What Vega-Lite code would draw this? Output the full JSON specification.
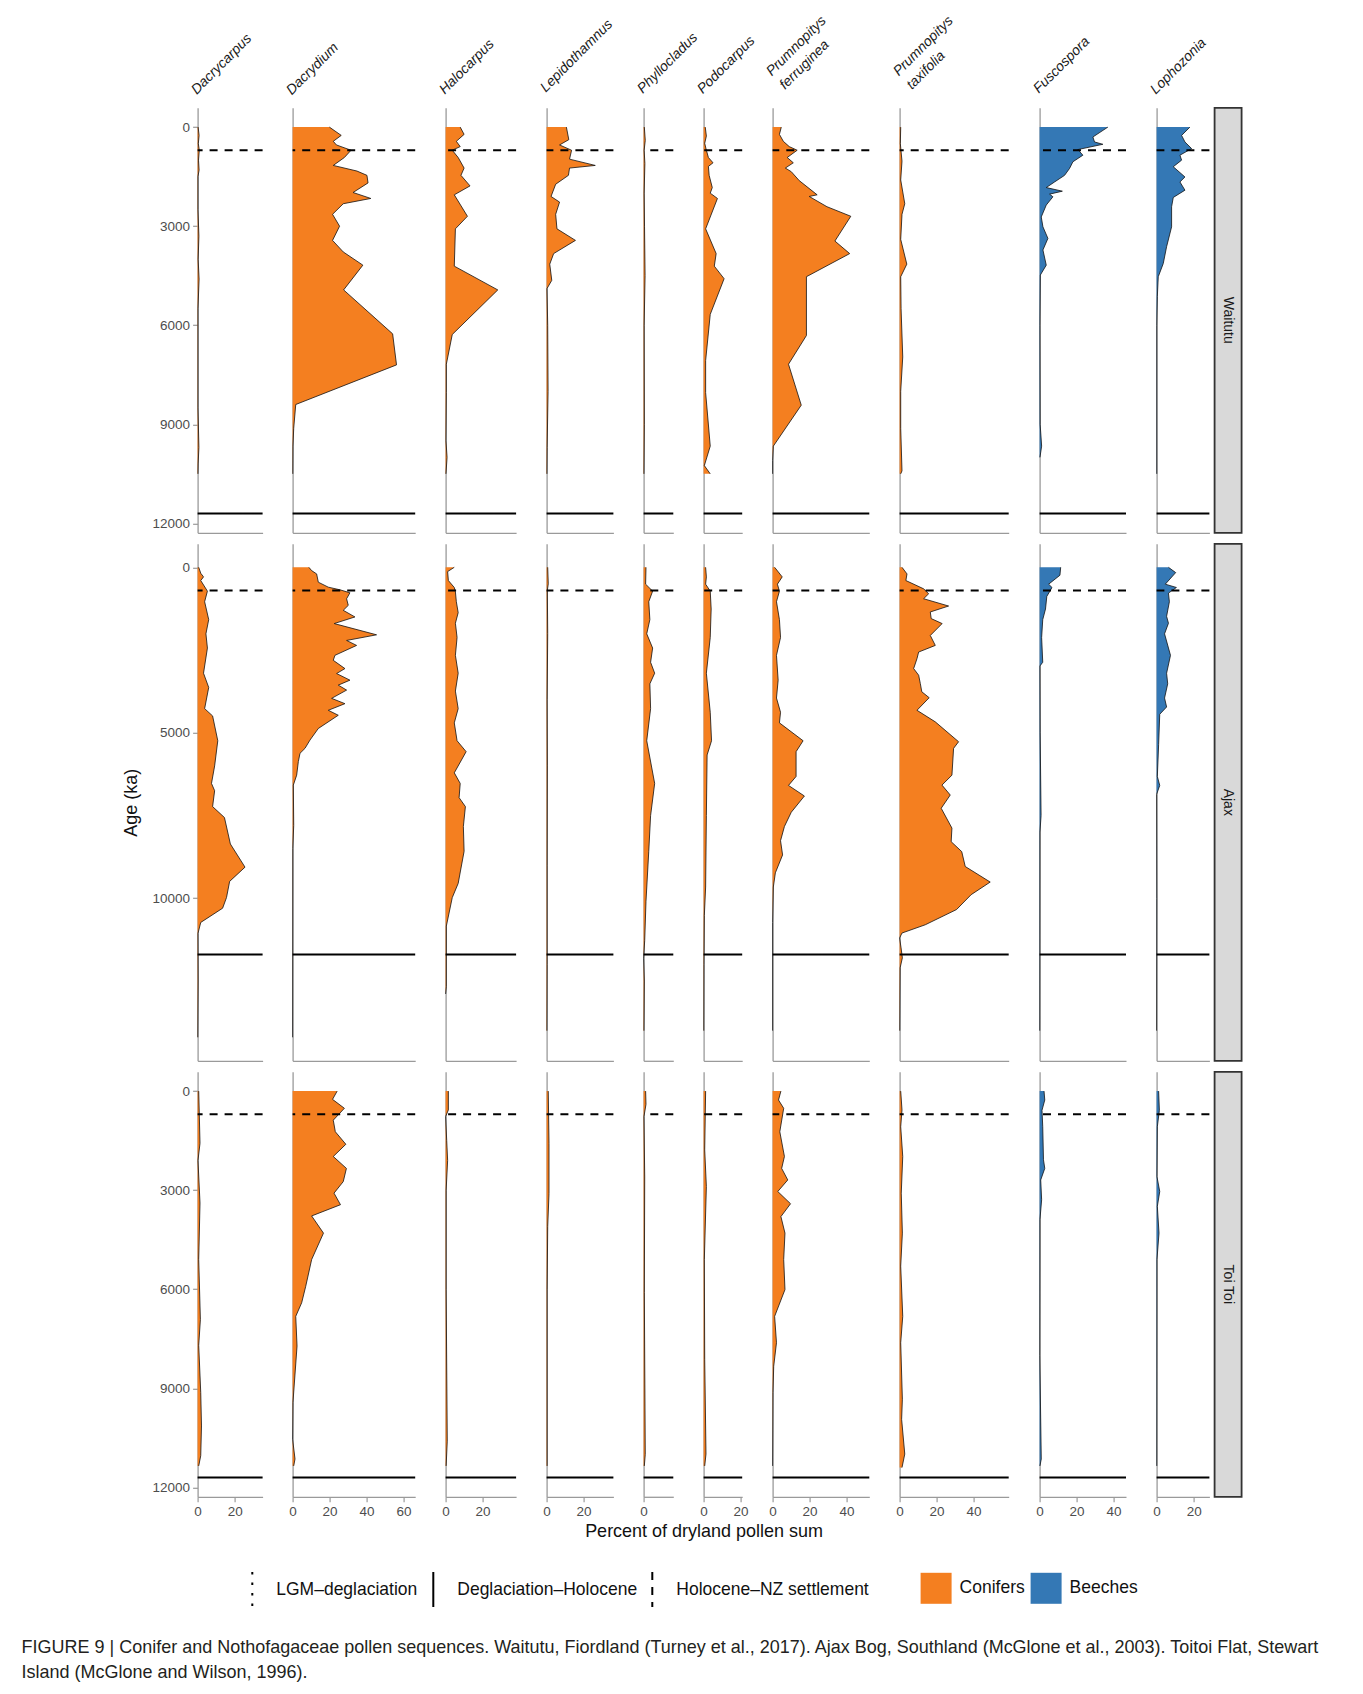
{
"$schema":"https://vega.github.io/schema/vega-lite/v6.json",
"padding":{"left":21.6,"top":12.8,"right":5,"bottom":5},
"background":"white",
"config":{
 "font":"Liberation Sans",
 "view":{"stroke":null},
 "axis":{"domainColor":"#9a9a9a","domainWidth":1.3,"tickColor":"#9a9a9a","tickWidth":1.2,"tickSize":5,"ticks":false,"labels":false,"grid":false,"labelFontSize":13.5,"labelColor":"#4d4d4d","labelPadding":3,"labelFlush":false,"labelOverlap":false,"titleFontSize":18,"titleFontWeight":"normal","titleColor":"#111111"},
 "legend":{"orient":"none","direction":"horizontal","labelFontSize":17.5,"labelColor":"#111111","labelLimit":400,"columnPadding":5,"padding":0,"offset":0},
 "title":{"orient":"top","anchor":"start","frame":"group","angle":-45,"align":"left","baseline":"alphabetic","offset":-38,"dx":-10.4,"dy":-1.9,"fontSize":14,"fontStyle":"italic","fontWeight":"normal","color":"#1a1a1a","lineHeight":19}
},
"title":{"text":["FIGURE 9 | Conifer and Nothofagaceae pollen sequences. Waitutu, Fiordland (Turney et al., 2017). Ajax Bog, Southland (McGlone et al., 2003). Toitoi Flat, Stewart","Island (McGlone and Wilson, 1996)."],"orient":"bottom","anchor":"start","frame":"group","angle":0,"align":"left","baseline":"top","offset":28,"dx":-176,"dy":0,"fontSize":18,"fontStyle":"normal","fontWeight":"normal","color":"#231f20","lineHeight":25},
"datasets":{
"bounds":[{"boundary":"Holocene–NZ settlement","age":700},{"boundary":"Deglaciation–Holocene","age":11700}],
"sites":[{"site":"Waitutu"},{"site":"Ajax"},{"site":"Toi Toi"}],
"W_Dacrycarpus":[{"age":0,"pct":0.3},{"age":250,"pct":0.8},{"age":500,"pct":0.4},{"age":700,"pct":0.9},{"age":1000,"pct":0.5},{"age":1300,"pct":0.8},{"age":1500,"pct":0.2},{"age":2500,"pct":0.2},{"age":3300,"pct":0.7},{"age":4000,"pct":0.3},{"age":4600,"pct":0.8},{"age":5500,"pct":0.2},{"age":8500,"pct":0.2},{"age":9700,"pct":0.7},{"age":10200,"pct":0.3},{"age":10500,"pct":0.2}],
"W_Dacrydium":[{"age":0,"pct":19.9},{"age":250,"pct":26.3},{"age":430,"pct":22},{"age":540,"pct":23.7},{"age":700,"pct":31.6},{"age":920,"pct":28},{"age":1160,"pct":22},{"age":1330,"pct":34.8},{"age":1460,"pct":40.2},{"age":1690,"pct":40.8},{"age":1980,"pct":32.7},{"age":2160,"pct":42.3},{"age":2320,"pct":27.4},{"age":2640,"pct":21.6},{"age":3000,"pct":25.4},{"age":3430,"pct":21.6},{"age":3780,"pct":27.4},{"age":4180,"pct":38},{"age":4930,"pct":27.6},{"age":6260,"pct":54.1},{"age":7200,"pct":56.2},{"age":8400,"pct":1.7},{"age":9120,"pct":0.6},{"age":9660,"pct":0.2},{"age":10500,"pct":0.1}],
"W_Halocarpus":[{"age":0,"pct":7.9},{"age":220,"pct":10},{"age":430,"pct":5.8},{"age":590,"pct":7.9},{"age":700,"pct":3.6},{"age":920,"pct":6.8},{"age":1240,"pct":10},{"age":1460,"pct":8.3},{"age":1780,"pct":13.2},{"age":2050,"pct":4.7},{"age":2700,"pct":11.8},{"age":3080,"pct":5.3},{"age":4210,"pct":4.7},{"age":4930,"pct":28.2},{"age":6280,"pct":3.6},{"age":7180,"pct":0.4},{"age":8040,"pct":0.4},{"age":9500,"pct":0.2},{"age":10000,"pct":0.8},{"age":10500,"pct":0.2}],
"W_Lepidothamnus":[{"age":0,"pct":10.7},{"age":380,"pct":12},{"age":540,"pct":7},{"age":700,"pct":13.5},{"age":970,"pct":12.4},{"age":1160,"pct":26.3},{"age":1240,"pct":12.4},{"age":1460,"pct":11.8},{"age":1730,"pct":4.9},{"age":2100,"pct":2.4},{"age":2270,"pct":7},{"age":2640,"pct":4.9},{"age":3080,"pct":5.6},{"age":3430,"pct":15.6},{"age":3830,"pct":3.8},{"age":4150,"pct":1.7},{"age":4640,"pct":2.8},{"age":4890,"pct":0.2},{"age":6000,"pct":0.6},{"age":8000,"pct":0.8},{"age":9700,"pct":0.3},{"age":10500,"pct":0.2}],
"W_Phyllocladus":[{"age":0,"pct":0.4},{"age":400,"pct":0.9},{"age":700,"pct":0.3},{"age":1100,"pct":0.7},{"age":2000,"pct":0.3},{"age":3000,"pct":0.5},{"age":4500,"pct":0.8},{"age":6000,"pct":0.3},{"age":9000,"pct":0.4},{"age":10500,"pct":0.2}],
"W_Podocarpus":[{"age":0,"pct":0.9},{"age":270,"pct":1.5},{"age":490,"pct":0.6},{"age":700,"pct":1.5},{"age":920,"pct":2.6},{"age":1080,"pct":5.1},{"age":1190,"pct":2.6},{"age":1460,"pct":3},{"age":1830,"pct":4.7},{"age":2000,"pct":3.6},{"age":2160,"pct":7.5},{"age":3080,"pct":1.1},{"age":3830,"pct":6.8},{"age":4210,"pct":5.8},{"age":4590,"pct":11.1},{"age":5670,"pct":3.6},{"age":7070,"pct":1.1},{"age":8040,"pct":1.1},{"age":9660,"pct":3.6},{"age":10250,"pct":0.4},{"age":10500,"pct":3.6}],
"W_Pferr":[{"age":0,"pct":4.7},{"age":220,"pct":3.7},{"age":430,"pct":5.8},{"age":590,"pct":9},{"age":700,"pct":13.3},{"age":920,"pct":7.9},{"age":1080,"pct":11.2},{"age":1240,"pct":6.9},{"age":1350,"pct":10.1},{"age":1620,"pct":14.4},{"age":2050,"pct":24.1},{"age":2100,"pct":19.8},{"age":2410,"pct":29.4},{"age":2700,"pct":42.3},{"age":3450,"pct":33.7},{"age":3830,"pct":41.7},{"age":4530,"pct":18.3},{"age":6310,"pct":18.3},{"age":7180,"pct":8.6},{"age":8420,"pct":15.5},{"age":9660,"pct":0.4},{"age":10090,"pct":0},{"age":10500,"pct":0}],
"W_Ptax":[{"age":0,"pct":0.6},{"age":500,"pct":0.4},{"age":1030,"pct":1.3},{"age":1600,"pct":0.6},{"age":2320,"pct":2.8},{"age":2640,"pct":1.3},{"age":3400,"pct":0.6},{"age":4150,"pct":3.9},{"age":4530,"pct":0.6},{"age":5500,"pct":0.8},{"age":6960,"pct":1.7},{"age":8000,"pct":0.6},{"age":9120,"pct":0.6},{"age":10410,"pct":1.3},{"age":10500,"pct":0.6}],
"W_Fuscospora":[{"age":0,"pct":36.9},{"age":300,"pct":28.8},{"age":450,"pct":29.7},{"age":520,"pct":34.2},{"age":680,"pct":20.7},{"age":850,"pct":23.4},{"age":1050,"pct":18},{"age":1250,"pct":16.2},{"age":1460,"pct":13.5},{"age":1660,"pct":8.1},{"age":1830,"pct":3.6},{"age":1940,"pct":12.3},{"age":2030,"pct":5.4},{"age":2110,"pct":7.2},{"age":2360,"pct":3.6},{"age":2720,"pct":0.9},{"age":3020,"pct":1.8},{"age":3370,"pct":4.5},{"age":3720,"pct":1.8},{"age":4180,"pct":3.6},{"age":4480,"pct":0.4},{"age":6000,"pct":0.2},{"age":9000,"pct":0.3},{"age":9660,"pct":1.1},{"age":10000,"pct":0.2}],
"W_Lophozonia":[{"age":0,"pct":18},{"age":250,"pct":13.5},{"age":450,"pct":15.3},{"age":650,"pct":18.9},{"age":850,"pct":12.6},{"age":1000,"pct":13.5},{"age":1200,"pct":9},{"age":1510,"pct":15.3},{"age":1660,"pct":12.6},{"age":1910,"pct":15.3},{"age":2130,"pct":9},{"age":2410,"pct":8.1},{"age":3020,"pct":8.1},{"age":3620,"pct":5.4},{"age":4130,"pct":3.6},{"age":4530,"pct":0.9},{"age":5130,"pct":0.4},{"age":6000,"pct":0.1},{"age":10500,"pct":0.1}],
"A_Dacrycarpus":[{"age":0,"pct":0.6},{"age":180,"pct":1.7},{"age":290,"pct":3.2},{"age":400,"pct":1.7},{"age":720,"pct":5.3},{"age":1040,"pct":3.8},{"age":1580,"pct":6},{"age":2010,"pct":4.5},{"age":2440,"pct":5.3},{"age":3200,"pct":3.2},{"age":3630,"pct":6},{"age":4270,"pct":3.8},{"age":4490,"pct":8.1},{"age":5240,"pct":10.9},{"age":6000,"pct":9.2},{"age":6530,"pct":7.5},{"age":6750,"pct":9.2},{"age":7230,"pct":8.1},{"age":7560,"pct":14.5},{"age":8360,"pct":17.7},{"age":9060,"pct":25.6},{"age":9490,"pct":17.3},{"age":9980,"pct":15.6},{"age":10300,"pct":13.5},{"age":10730,"pct":1.7},{"age":11060,"pct":0.2},{"age":12500,"pct":0.3},{"age":14200,"pct":0.1}],
"A_Dacrydium":[{"age":0,"pct":8.8},{"age":100,"pct":10.3},{"age":200,"pct":13},{"age":450,"pct":13.9},{"age":600,"pct":19.3},{"age":680,"pct":25.6},{"age":770,"pct":31},{"age":950,"pct":29.2},{"age":1150,"pct":30.1},{"age":1300,"pct":27.4},{"age":1500,"pct":33.7},{"age":1700,"pct":22.5},{"age":2040,"pct":45.4},{"age":2210,"pct":29.2},{"age":2360,"pct":34.6},{"age":2660,"pct":22.9},{"age":2810,"pct":22},{"age":3060,"pct":28.3},{"age":3210,"pct":23.8},{"age":3410,"pct":31},{"age":3560,"pct":24.7},{"age":3710,"pct":29.2},{"age":3960,"pct":21.1},{"age":4120,"pct":28.3},{"age":4320,"pct":19.3},{"age":4470,"pct":24.7},{"age":4870,"pct":13.9},{"age":5220,"pct":9.4},{"age":5470,"pct":6.7},{"age":5620,"pct":4},{"age":5870,"pct":3.1},{"age":6280,"pct":2.2},{"age":6580,"pct":0.4},{"age":7800,"pct":0.6},{"age":8500,"pct":0.1},{"age":14200,"pct":0}],
"A_Halocarpus":[{"age":0,"pct":4.7},{"age":130,"pct":1.1},{"age":400,"pct":1.5},{"age":610,"pct":4.7},{"age":740,"pct":5.3},{"age":1040,"pct":5.8},{"age":1370,"pct":6.8},{"age":1690,"pct":5.3},{"age":2120,"pct":6.2},{"age":2660,"pct":5.3},{"age":3200,"pct":6.8},{"age":3740,"pct":5.3},{"age":4270,"pct":6.8},{"age":4700,"pct":4.7},{"age":5240,"pct":6.2},{"age":5570,"pct":11.1},{"age":6210,"pct":4.7},{"age":6530,"pct":7.9},{"age":6960,"pct":7.3},{"age":7230,"pct":10.7},{"age":7830,"pct":9.6},{"age":8580,"pct":10},{"age":9550,"pct":6.8},{"age":9980,"pct":3.6},{"age":10840,"pct":0.4},{"age":12670,"pct":0.4},{"age":12890,"pct":0}],
"A_Lepidothamnus":[{"age":0,"pct":0.6},{"age":500,"pct":0.9},{"age":700,"pct":0.4},{"age":2000,"pct":0.6},{"age":4000,"pct":0.3},{"age":6000,"pct":0.4},{"age":9000,"pct":0.3},{"age":12000,"pct":0.3},{"age":14000,"pct":0.2}],
"A_Phyllocladus":[{"age":0,"pct":1.3},{"age":510,"pct":1.1},{"age":720,"pct":4.9},{"age":1040,"pct":2.8},{"age":1580,"pct":3.4},{"age":2010,"pct":1.7},{"age":2440,"pct":4.9},{"age":2870,"pct":3.8},{"age":3200,"pct":6},{"age":3520,"pct":3.4},{"age":4270,"pct":3.8},{"age":5240,"pct":1.7},{"age":6530,"pct":6},{"age":7500,"pct":3.8},{"age":8580,"pct":2.8},{"age":10090,"pct":1.3},{"age":11270,"pct":0.6},{"age":11810,"pct":0},{"age":12500,"pct":0.4},{"age":14000,"pct":0.2}],
"A_Podocarpus":[{"age":0,"pct":1.1},{"age":290,"pct":1.5},{"age":510,"pct":1.1},{"age":720,"pct":3.6},{"age":1260,"pct":4.1},{"age":2120,"pct":3.6},{"age":3200,"pct":1.5},{"age":4380,"pct":3.6},{"age":5240,"pct":4.3},{"age":5670,"pct":1.9},{"age":7500,"pct":1.5},{"age":9660,"pct":1.1},{"age":10520,"pct":0.4},{"age":12000,"pct":0.2},{"age":14000,"pct":0.1}],
"A_Pferr":[{"age":0,"pct":1.1},{"age":290,"pct":5.2},{"age":510,"pct":2.6},{"age":720,"pct":3.7},{"age":1040,"pct":2.1},{"age":1580,"pct":3.7},{"age":2120,"pct":4.3},{"age":2660,"pct":2.1},{"age":3410,"pct":3},{"age":3950,"pct":2.1},{"age":4380,"pct":4.3},{"age":4700,"pct":3.7},{"age":5240,"pct":16.5},{"age":5570,"pct":12.7},{"age":6320,"pct":12.7},{"age":6590,"pct":8.6},{"age":6910,"pct":17.2},{"age":7400,"pct":10.1},{"age":7830,"pct":6.4},{"age":8260,"pct":4.3},{"age":8690,"pct":5.4},{"age":9230,"pct":1.5},{"age":9660,"pct":0.4},{"age":10730,"pct":0},{"age":14000,"pct":0}],
"A_Ptax":[{"age":0,"pct":1.3},{"age":200,"pct":4},{"age":400,"pct":3.4},{"age":650,"pct":13},{"age":800,"pct":15.7},{"age":950,"pct":13},{"age":1170,"pct":26.5},{"age":1350,"pct":16.6},{"age":1550,"pct":17.1},{"age":1700,"pct":23},{"age":2060,"pct":16.6},{"age":2360,"pct":19.3},{"age":2560,"pct":10.3},{"age":2760,"pct":9.4},{"age":3060,"pct":7.6},{"age":3260,"pct":10.3},{"age":3510,"pct":11.2},{"age":3760,"pct":12},{"age":3940,"pct":16},{"age":4320,"pct":9.4},{"age":4670,"pct":19.3},{"age":5270,"pct":31.9},{"age":5470,"pct":29.2},{"age":6280,"pct":28.3},{"age":6580,"pct":22.9},{"age":6880,"pct":27.4},{"age":7280,"pct":22.5},{"age":7880,"pct":28.3},{"age":8290,"pct":27.9},{"age":8590,"pct":33.6},{"age":9040,"pct":35.5},{"age":9510,"pct":49},{"age":9890,"pct":38.7},{"age":10340,"pct":30.8},{"age":10800,"pct":13.9},{"age":11050,"pct":1.3},{"age":11200,"pct":0},{"age":11500,"pct":0.8},{"age":11800,"pct":1.5},{"age":12100,"pct":0.3},{"age":14000,"pct":0.1}],
"A_Fuscospora":[{"age":0,"pct":11.4},{"age":240,"pct":11},{"age":510,"pct":4.9},{"age":610,"pct":6.7},{"age":880,"pct":3.9},{"age":1260,"pct":3.2},{"age":1580,"pct":1.7},{"age":2120,"pct":1.1},{"age":2870,"pct":1.7},{"age":2980,"pct":0.2},{"age":5000,"pct":0.3},{"age":7500,"pct":0.8},{"age":8000,"pct":0.2},{"age":14000,"pct":0.1}],
"A_Lophozonia":[{"age":0,"pct":6.4},{"age":160,"pct":10.3},{"age":510,"pct":4.7},{"age":610,"pct":10.7},{"age":780,"pct":6.4},{"age":1040,"pct":6.9},{"age":1480,"pct":5.4},{"age":1690,"pct":6.4},{"age":2010,"pct":4.3},{"age":2660,"pct":7.5},{"age":3200,"pct":5.4},{"age":3520,"pct":6},{"age":3950,"pct":4.3},{"age":4220,"pct":5.4},{"age":4440,"pct":1.7},{"age":5350,"pct":1.1},{"age":6320,"pct":0.4},{"age":6590,"pct":1.7},{"age":6860,"pct":0},{"age":10000,"pct":0.1},{"age":14000,"pct":0}],
"T_Dacrycarpus":[{"age":0,"pct":0.6},{"age":1580,"pct":1.3},{"age":2100,"pct":0.2},{"age":3390,"pct":1.3},{"age":5100,"pct":0.6},{"age":6920,"pct":1.5},{"age":7700,"pct":0.6},{"age":9130,"pct":1.7},{"age":10140,"pct":2.1},{"age":11040,"pct":1.7},{"age":11350,"pct":0.6}],
"T_Dacrydium":[{"age":0,"pct":24.1},{"age":250,"pct":21.6},{"age":520,"pct":28},{"age":880,"pct":22},{"age":1230,"pct":23.1},{"age":1610,"pct":28.8},{"age":1980,"pct":22},{"age":2340,"pct":29.1},{"age":2740,"pct":27.4},{"age":3090,"pct":22.4},{"age":3440,"pct":25.9},{"age":3780,"pct":10.3},{"age":4300,"pct":16.7},{"age":5100,"pct":10.3},{"age":5910,"pct":7.1},{"age":6410,"pct":4.9},{"age":6820,"pct":1.7},{"age":7720,"pct":2.4},{"age":9430,"pct":0.2},{"age":10540,"pct":0},{"age":11140,"pct":1.3},{"age":11350,"pct":0.6}],
"T_Halocarpus":[{"age":0,"pct":1.5},{"age":570,"pct":1.5},{"age":770,"pct":0},{"age":1500,"pct":0.6},{"age":2100,"pct":1.1},{"age":3000,"pct":0.3},{"age":6000,"pct":0.3},{"age":10600,"pct":0.9},{"age":11350,"pct":0.3}],
"T_Lepidothamnus":[{"age":0,"pct":0.9},{"age":1580,"pct":1.3},{"age":3100,"pct":1.3},{"age":4100,"pct":0.6},{"age":6000,"pct":0.3},{"age":11350,"pct":0.3}],
"T_Phyllocladus":[{"age":0,"pct":1.1},{"age":400,"pct":1.3},{"age":770,"pct":0.2},{"age":2600,"pct":0.6},{"age":6100,"pct":0.4},{"age":11000,"pct":0.9},{"age":11350,"pct":0.4}],
"T_Podocarpus":[{"age":0,"pct":1.1},{"age":1780,"pct":0.6},{"age":2890,"pct":1.5},{"age":5100,"pct":0.4},{"age":8120,"pct":0.6},{"age":10990,"pct":1.3},{"age":11350,"pct":0.6}],
"T_Pferr":[{"age":0,"pct":4.5},{"age":270,"pct":3.2},{"age":520,"pct":6},{"age":1230,"pct":3.9},{"age":1980,"pct":6.4},{"age":2340,"pct":4.9},{"age":2690,"pct":8.2},{"age":3040,"pct":2.8},{"age":3410,"pct":9.7},{"age":3800,"pct":4.5},{"age":4300,"pct":6.7},{"age":5100,"pct":6},{"age":6010,"pct":6.7},{"age":6820,"pct":1.1},{"age":7620,"pct":2.1},{"age":8330,"pct":0.6},{"age":9130,"pct":0.2},{"age":11350,"pct":0}],
"T_Ptax":[{"age":0,"pct":0.6},{"age":570,"pct":1.3},{"age":1080,"pct":0.6},{"age":1980,"pct":1.7},{"age":3090,"pct":0.9},{"age":4300,"pct":1.5},{"age":5300,"pct":0.6},{"age":6820,"pct":1.7},{"age":7620,"pct":0.6},{"age":9330,"pct":1.5},{"age":9940,"pct":1.1},{"age":10990,"pct":2.8},{"age":11400,"pct":1.3}],
"T_Fuscospora":[{"age":0,"pct":2.4},{"age":270,"pct":2.8},{"age":580,"pct":1.3},{"age":1080,"pct":1.7},{"age":2080,"pct":2.1},{"age":2340,"pct":2.8},{"age":2690,"pct":0.6},{"age":3290,"pct":1.1},{"age":3890,"pct":0.2},{"age":8000,"pct":0.1},{"age":11140,"pct":0.9},{"age":11350,"pct":0.2}],
"T_Lophozonia":[{"age":0,"pct":1.1},{"age":580,"pct":1.5},{"age":1080,"pct":0.4},{"age":2590,"pct":0.2},{"age":3040,"pct":1.7},{"age":3490,"pct":0.4},{"age":4300,"pct":1.3},{"age":5100,"pct":0.2},{"age":11350,"pct":0.1}]
},
"spacing":9,
"bounds":"full",
"vconcat":[
{"hconcat":[
{"hconcat":[
{"width":65,"height":425,"data":{"name":"W_Dacrycarpus"},"title":{"text":"Dacrycarpus","offset":-38.8},"layer":[
{"mark":{"type":"area","orient":"horizontal"},"encoding":{"y":{"field":"age","type":"quantitative","scale":{"domain":[-585,12285],"reverse":true,"nice":false,"zero":false},"axis":{"title":null,"ticks":true,"labels":true,"values":[0,3000,6000,9000,12000],"format":"d"}},"x":{"field":"pct","type":"quantitative","stack":null,"scale":{"domain":[0,35.1],"nice":false},"axis":{"title":null}},"fill":{"datum":"Conifers","scale":{"domain":["Conifers","Beeches"],"range":["#F47F20","#3478B5"]},"legend":{"title":null,"legendX":723,"legendY":1465,"symbolType":"square","symbolSize":961,"symbolStrokeWidth":0,"labelOffset":8}}}},
{"mark":{"type":"line","color":"#111111","strokeWidth":0.8},"encoding":{"y":{"field":"age","type":"quantitative"},"x":{"field":"pct","type":"quantitative"},"order":{"field":"age","type":"quantitative"}}},
{"data":{"name":"bounds"},"mark":{"type":"rule","color":"black","strokeWidth":2},"encoding":{"y":{"field":"age","type":"quantitative"},"strokeDash":{"field":"boundary","type":"nominal","scale":{"domain":["LGM–deglaciation","Deglaciation–Holocene","Holocene–NZ settlement"],"range":[[2.5,8],[1,0],[8,7]]},"legend":{"title":null,"legendX":44.7,"legendY":1471.5,"symbolType":"M0,-2L0,2","symbolSize":306,"symbolStrokeWidth":2,"symbolStrokeColor":"black","labelOffset":14}}}}]},
{"width":122.6,"height":425,"data":{"name":"W_Dacrydium"},"title":{"text":"Dacrydium","offset":-31.1},"layer":[
{"mark":{"type":"area","orient":"horizontal"},"encoding":{"y":{"field":"age","type":"quantitative","scale":{"domain":[-585,12285],"reverse":true,"nice":false,"zero":false},"axis":{"title":null}},"x":{"field":"pct","type":"quantitative","stack":null,"scale":{"domain":[0,66.3],"nice":false},"axis":{"title":null}},"fill":{"datum":"Conifers","scale":{"domain":["Conifers","Beeches"],"range":["#F47F20","#3478B5"]},"legend":{"title":null,"legendX":723,"legendY":1465,"symbolType":"square","symbolSize":961,"symbolStrokeWidth":0,"labelOffset":8}}}},
{"mark":{"type":"line","color":"#111111","strokeWidth":0.8},"encoding":{"y":{"field":"age","type":"quantitative"},"x":{"field":"pct","type":"quantitative"},"order":{"field":"age","type":"quantitative"}}},
{"data":{"name":"bounds"},"mark":{"type":"rule","color":"black","strokeWidth":2},"encoding":{"y":{"field":"age","type":"quantitative"},"strokeDash":{"field":"boundary","type":"nominal","scale":{"domain":["LGM–deglaciation","Deglaciation–Holocene","Holocene–NZ settlement"],"range":[[2.5,8],[1,0],[8,7]]},"legend":{"title":null,"legendX":44.7,"legendY":1471.5,"symbolType":"M0,-2L0,2","symbolSize":306,"symbolStrokeWidth":2,"symbolStrokeColor":"black","labelOffset":14}}}}]},
{"width":70.5,"height":425,"data":{"name":"W_Halocarpus"},"title":{"text":"Halocarpus","offset":-33.2},"layer":[
{"mark":{"type":"area","orient":"horizontal"},"encoding":{"y":{"field":"age","type":"quantitative","scale":{"domain":[-585,12285],"reverse":true,"nice":false,"zero":false},"axis":{"title":null}},"x":{"field":"pct","type":"quantitative","stack":null,"scale":{"domain":[0,38.1],"nice":false},"axis":{"title":null}},"fill":{"datum":"Conifers","scale":{"domain":["Conifers","Beeches"],"range":["#F47F20","#3478B5"]},"legend":{"title":null,"legendX":723,"legendY":1465,"symbolType":"square","symbolSize":961,"symbolStrokeWidth":0,"labelOffset":8}}}},
{"mark":{"type":"line","color":"#111111","strokeWidth":0.8},"encoding":{"y":{"field":"age","type":"quantitative"},"x":{"field":"pct","type":"quantitative"},"order":{"field":"age","type":"quantitative"}}},
{"data":{"name":"bounds"},"mark":{"type":"rule","color":"black","strokeWidth":2},"encoding":{"y":{"field":"age","type":"quantitative"},"strokeDash":{"field":"boundary","type":"nominal","scale":{"domain":["LGM–deglaciation","Deglaciation–Holocene","Holocene–NZ settlement"],"range":[[2.5,8],[1,0],[8,7]]},"legend":{"title":null,"legendX":44.7,"legendY":1471.5,"symbolType":"M0,-2L0,2","symbolSize":306,"symbolStrokeWidth":2,"symbolStrokeColor":"black","labelOffset":14}}}}]},
{"width":66.8,"height":425,"data":{"name":"W_Lepidothamnus"},"title":{"text":"Lepidothamnus","offset":-48.8},"layer":[
{"mark":{"type":"area","orient":"horizontal"},"encoding":{"y":{"field":"age","type":"quantitative","scale":{"domain":[-585,12285],"reverse":true,"nice":false,"zero":false},"axis":{"title":null}},"x":{"field":"pct","type":"quantitative","stack":null,"scale":{"domain":[0,36.1],"nice":false},"axis":{"title":null}},"fill":{"datum":"Conifers","scale":{"domain":["Conifers","Beeches"],"range":["#F47F20","#3478B5"]},"legend":{"title":null,"legendX":723,"legendY":1465,"symbolType":"square","symbolSize":961,"symbolStrokeWidth":0,"labelOffset":8}}}},
{"mark":{"type":"line","color":"#111111","strokeWidth":0.8},"encoding":{"y":{"field":"age","type":"quantitative"},"x":{"field":"pct","type":"quantitative"},"order":{"field":"age","type":"quantitative"}}},
{"data":{"name":"bounds"},"mark":{"type":"rule","color":"black","strokeWidth":2},"encoding":{"y":{"field":"age","type":"quantitative"},"strokeDash":{"field":"boundary","type":"nominal","scale":{"domain":["LGM–deglaciation","Deglaciation–Holocene","Holocene–NZ settlement"],"range":[[2.5,8],[1,0],[8,7]]},"legend":{"title":null,"legendX":44.7,"legendY":1471.5,"symbolType":"M0,-2L0,2","symbolSize":306,"symbolStrokeWidth":2,"symbolStrokeColor":"black","labelOffset":14}}}}]},
{"width":29.7,"height":425,"data":{"name":"W_Phyllocladus"},"title":{"text":"Phyllocladus","offset":-37.8},"layer":[
{"mark":{"type":"area","orient":"horizontal"},"encoding":{"y":{"field":"age","type":"quantitative","scale":{"domain":[-585,12285],"reverse":true,"nice":false,"zero":false},"axis":{"title":null}},"x":{"field":"pct","type":"quantitative","stack":null,"scale":{"domain":[0,16.1],"nice":false},"axis":{"title":null}},"fill":{"datum":"Conifers","scale":{"domain":["Conifers","Beeches"],"range":["#F47F20","#3478B5"]},"legend":{"title":null,"legendX":723,"legendY":1465,"symbolType":"square","symbolSize":961,"symbolStrokeWidth":0,"labelOffset":8}}}},
{"mark":{"type":"line","color":"#111111","strokeWidth":0.8},"encoding":{"y":{"field":"age","type":"quantitative"},"x":{"field":"pct","type":"quantitative"},"order":{"field":"age","type":"quantitative"}}},
{"data":{"name":"bounds"},"mark":{"type":"rule","color":"black","strokeWidth":2},"encoding":{"y":{"field":"age","type":"quantitative"},"strokeDash":{"field":"boundary","type":"nominal","scale":{"domain":["LGM–deglaciation","Deglaciation–Holocene","Holocene–NZ settlement"],"range":[[2.5,8],[1,0],[8,7]]},"legend":{"title":null,"legendX":44.7,"legendY":1471.5,"symbolType":"M0,-2L0,2","symbolSize":306,"symbolStrokeWidth":2,"symbolStrokeColor":"black","labelOffset":14}}}}]},
{"width":38.6,"height":425,"data":{"name":"W_Podocarpus"},"title":{"text":"Podocarpus","offset":-35.4},"layer":[
{"mark":{"type":"area","orient":"horizontal"},"encoding":{"y":{"field":"age","type":"quantitative","scale":{"domain":[-585,12285],"reverse":true,"nice":false,"zero":false},"axis":{"title":null}},"x":{"field":"pct","type":"quantitative","stack":null,"scale":{"domain":[0,20.9],"nice":false},"axis":{"title":null}},"fill":{"datum":"Conifers","scale":{"domain":["Conifers","Beeches"],"range":["#F47F20","#3478B5"]},"legend":{"title":null,"legendX":723,"legendY":1465,"symbolType":"square","symbolSize":961,"symbolStrokeWidth":0,"labelOffset":8}}}},
{"mark":{"type":"line","color":"#111111","strokeWidth":0.8},"encoding":{"y":{"field":"age","type":"quantitative"},"x":{"field":"pct","type":"quantitative"},"order":{"field":"age","type":"quantitative"}}},
{"data":{"name":"bounds"},"mark":{"type":"rule","color":"black","strokeWidth":2},"encoding":{"y":{"field":"age","type":"quantitative"},"strokeDash":{"field":"boundary","type":"nominal","scale":{"domain":["LGM–deglaciation","Deglaciation–Holocene","Holocene–NZ settlement"],"range":[[2.5,8],[1,0],[8,7]]},"legend":{"title":null,"legendX":44.7,"legendY":1471.5,"symbolType":"M0,-2L0,2","symbolSize":306,"symbolStrokeWidth":2,"symbolStrokeColor":"black","labelOffset":14}}}}]},
{"width":96.7,"height":425,"data":{"name":"W_Pferr"},"title":{"text":["Prumnopitys","ferruginea"],"offset":-48.3,"dx":0.2,"dy":-12.5},"layer":[
{"mark":{"type":"area","orient":"horizontal"},"encoding":{"y":{"field":"age","type":"quantitative","scale":{"domain":[-585,12285],"reverse":true,"nice":false,"zero":false},"axis":{"title":null}},"x":{"field":"pct","type":"quantitative","stack":null,"scale":{"domain":[0,52.3],"nice":false},"axis":{"title":null}},"fill":{"datum":"Conifers","scale":{"domain":["Conifers","Beeches"],"range":["#F47F20","#3478B5"]},"legend":{"title":null,"legendX":723,"legendY":1465,"symbolType":"square","symbolSize":961,"symbolStrokeWidth":0,"labelOffset":8}}}},
{"mark":{"type":"line","color":"#111111","strokeWidth":0.8},"encoding":{"y":{"field":"age","type":"quantitative"},"x":{"field":"pct","type":"quantitative"},"order":{"field":"age","type":"quantitative"}}},
{"data":{"name":"bounds"},"mark":{"type":"rule","color":"black","strokeWidth":2},"encoding":{"y":{"field":"age","type":"quantitative"},"strokeDash":{"field":"boundary","type":"nominal","scale":{"domain":["LGM–deglaciation","Deglaciation–Holocene","Holocene–NZ settlement"],"range":[[2.5,8],[1,0],[8,7]]},"legend":{"title":null,"legendX":44.7,"legendY":1471.5,"symbolType":"M0,-2L0,2","symbolSize":306,"symbolStrokeWidth":2,"symbolStrokeColor":"black","labelOffset":14}}}}]},
{"width":109.1,"height":425,"data":{"name":"W_Ptax"},"title":{"text":["Prumnopitys","taxifolia"],"offset":-48.3,"dx":0.2,"dy":-12.5},"layer":[
{"mark":{"type":"area","orient":"horizontal"},"encoding":{"y":{"field":"age","type":"quantitative","scale":{"domain":[-585,12285],"reverse":true,"nice":false,"zero":false},"axis":{"title":null}},"x":{"field":"pct","type":"quantitative","stack":null,"scale":{"domain":[0,59],"nice":false},"axis":{"title":null}},"fill":{"datum":"Conifers","scale":{"domain":["Conifers","Beeches"],"range":["#F47F20","#3478B5"]},"legend":{"title":null,"legendX":723,"legendY":1465,"symbolType":"square","symbolSize":961,"symbolStrokeWidth":0,"labelOffset":8}}}},
{"mark":{"type":"line","color":"#111111","strokeWidth":0.8},"encoding":{"y":{"field":"age","type":"quantitative"},"x":{"field":"pct","type":"quantitative"},"order":{"field":"age","type":"quantitative"}}},
{"data":{"name":"bounds"},"mark":{"type":"rule","color":"black","strokeWidth":2},"encoding":{"y":{"field":"age","type":"quantitative"},"strokeDash":{"field":"boundary","type":"nominal","scale":{"domain":["LGM–deglaciation","Deglaciation–Holocene","Holocene–NZ settlement"],"range":[[2.5,8],[1,0],[8,7]]},"legend":{"title":null,"legendX":44.7,"legendY":1471.5,"symbolType":"M0,-2L0,2","symbolSize":306,"symbolStrokeWidth":2,"symbolStrokeColor":"black","labelOffset":14}}}}]},
{"width":86.4,"height":425,"data":{"name":"W_Fuscospora"},"title":{"text":"Fuscospora","offset":-33.9},"layer":[
{"mark":{"type":"area","orient":"horizontal"},"encoding":{"y":{"field":"age","type":"quantitative","scale":{"domain":[-585,12285],"reverse":true,"nice":false,"zero":false},"axis":{"title":null}},"x":{"field":"pct","type":"quantitative","stack":null,"scale":{"domain":[0,46.7],"nice":false},"axis":{"title":null}},"fill":{"datum":"Beeches","scale":{"domain":["Conifers","Beeches"],"range":["#F47F20","#3478B5"]},"legend":{"title":null,"legendX":723,"legendY":1465,"symbolType":"square","symbolSize":961,"symbolStrokeWidth":0,"labelOffset":8}}}},
{"mark":{"type":"line","color":"#111111","strokeWidth":0.8},"encoding":{"y":{"field":"age","type":"quantitative"},"x":{"field":"pct","type":"quantitative"},"order":{"field":"age","type":"quantitative"}}},
{"data":{"name":"bounds"},"mark":{"type":"rule","color":"black","strokeWidth":2},"encoding":{"y":{"field":"age","type":"quantitative"},"strokeDash":{"field":"boundary","type":"nominal","scale":{"domain":["LGM–deglaciation","Deglaciation–Holocene","Holocene–NZ settlement"],"range":[[2.5,8],[1,0],[8,7]]},"legend":{"title":null,"legendX":44.7,"legendY":1471.5,"symbolType":"M0,-2L0,2","symbolSize":306,"symbolStrokeWidth":2,"symbolStrokeColor":"black","labelOffset":14}}}}]},
{"width":52.8,"height":425,"data":{"name":"W_Lophozonia"},"title":{"text":"Lophozonia","offset":-34.3},"layer":[
{"mark":{"type":"area","orient":"horizontal"},"encoding":{"y":{"field":"age","type":"quantitative","scale":{"domain":[-585,12285],"reverse":true,"nice":false,"zero":false},"axis":{"title":null}},"x":{"field":"pct","type":"quantitative","stack":null,"scale":{"domain":[0,28.5],"nice":false},"axis":{"title":null}},"fill":{"datum":"Beeches","scale":{"domain":["Conifers","Beeches"],"range":["#F47F20","#3478B5"]},"legend":{"title":null,"legendX":723,"legendY":1465,"symbolType":"square","symbolSize":961,"symbolStrokeWidth":0,"labelOffset":8}}}},
{"mark":{"type":"line","color":"#111111","strokeWidth":0.8},"encoding":{"y":{"field":"age","type":"quantitative"},"x":{"field":"pct","type":"quantitative"},"order":{"field":"age","type":"quantitative"}}},
{"data":{"name":"bounds"},"mark":{"type":"rule","color":"black","strokeWidth":2},"encoding":{"y":{"field":"age","type":"quantitative"},"strokeDash":{"field":"boundary","type":"nominal","scale":{"domain":["LGM–deglaciation","Deglaciation–Holocene","Holocene–NZ settlement"],"range":[[2.5,8],[1,0],[8,7]]},"legend":{"title":null,"legendX":44.7,"legendY":1471.5,"symbolType":"M0,-2L0,2","symbolSize":306,"symbolStrokeWidth":2,"symbolStrokeColor":"black","labelOffset":14}}}}]}
],"spacing":30,"bounds":"flush"},
{"width":27,"height":425,"view":{"fill":"#d9d9d9","stroke":"#333333","strokeWidth":1.8},"data":{"name":"sites"},"transform":[{"filter":"datum.site == 'Waitutu'"}],"mark":{"type":"text","angle":90,"fontSize":14,"color":"#1a1a1a"},"encoding":{"text":{"field":"site","type":"nominal"}}}
],"spacing":3,"bounds":"full"},
{"hconcat":[
{"hconcat":[
{"width":65,"height":517,"data":{"name":"A_Dacrycarpus"},"layer":[
{"mark":{"type":"area","orient":"horizontal"},"encoding":{"y":{"field":"age","type":"quantitative","scale":{"domain":[-710,14910],"reverse":true,"nice":false,"zero":false},"axis":{"title":"Age (ka)","titlePadding":12,"ticks":true,"labels":true,"values":[0,5000,10000],"format":"d"}},"x":{"field":"pct","type":"quantitative","stack":null,"scale":{"domain":[0,35.1],"nice":false},"axis":{"title":null}},"fill":{"datum":"Conifers","scale":{"domain":["Conifers","Beeches"],"range":["#F47F20","#3478B5"]},"legend":{"title":null,"legendX":723,"legendY":1465,"symbolType":"square","symbolSize":961,"symbolStrokeWidth":0,"labelOffset":8}}}},
{"mark":{"type":"line","color":"#111111","strokeWidth":0.8},"encoding":{"y":{"field":"age","type":"quantitative"},"x":{"field":"pct","type":"quantitative"},"order":{"field":"age","type":"quantitative"}}},
{"data":{"name":"bounds"},"mark":{"type":"rule","color":"black","strokeWidth":2},"encoding":{"y":{"field":"age","type":"quantitative"},"strokeDash":{"field":"boundary","type":"nominal","scale":{"domain":["LGM–deglaciation","Deglaciation–Holocene","Holocene–NZ settlement"],"range":[[2.5,8],[1,0],[8,7]]},"legend":{"title":null,"legendX":44.7,"legendY":1471.5,"symbolType":"M0,-2L0,2","symbolSize":306,"symbolStrokeWidth":2,"symbolStrokeColor":"black","labelOffset":14}}}}]},
{"width":122.6,"height":517,"data":{"name":"A_Dacrydium"},"layer":[
{"mark":{"type":"area","orient":"horizontal"},"encoding":{"y":{"field":"age","type":"quantitative","scale":{"domain":[-710,14910],"reverse":true,"nice":false,"zero":false},"axis":{"title":null}},"x":{"field":"pct","type":"quantitative","stack":null,"scale":{"domain":[0,66.3],"nice":false},"axis":{"title":null}},"fill":{"datum":"Conifers","scale":{"domain":["Conifers","Beeches"],"range":["#F47F20","#3478B5"]},"legend":{"title":null,"legendX":723,"legendY":1465,"symbolType":"square","symbolSize":961,"symbolStrokeWidth":0,"labelOffset":8}}}},
{"mark":{"type":"line","color":"#111111","strokeWidth":0.8},"encoding":{"y":{"field":"age","type":"quantitative"},"x":{"field":"pct","type":"quantitative"},"order":{"field":"age","type":"quantitative"}}},
{"data":{"name":"bounds"},"mark":{"type":"rule","color":"black","strokeWidth":2},"encoding":{"y":{"field":"age","type":"quantitative"},"strokeDash":{"field":"boundary","type":"nominal","scale":{"domain":["LGM–deglaciation","Deglaciation–Holocene","Holocene–NZ settlement"],"range":[[2.5,8],[1,0],[8,7]]},"legend":{"title":null,"legendX":44.7,"legendY":1471.5,"symbolType":"M0,-2L0,2","symbolSize":306,"symbolStrokeWidth":2,"symbolStrokeColor":"black","labelOffset":14}}}}]},
{"width":70.5,"height":517,"data":{"name":"A_Halocarpus"},"layer":[
{"mark":{"type":"area","orient":"horizontal"},"encoding":{"y":{"field":"age","type":"quantitative","scale":{"domain":[-710,14910],"reverse":true,"nice":false,"zero":false},"axis":{"title":null}},"x":{"field":"pct","type":"quantitative","stack":null,"scale":{"domain":[0,38.1],"nice":false},"axis":{"title":null}},"fill":{"datum":"Conifers","scale":{"domain":["Conifers","Beeches"],"range":["#F47F20","#3478B5"]},"legend":{"title":null,"legendX":723,"legendY":1465,"symbolType":"square","symbolSize":961,"symbolStrokeWidth":0,"labelOffset":8}}}},
{"mark":{"type":"line","color":"#111111","strokeWidth":0.8},"encoding":{"y":{"field":"age","type":"quantitative"},"x":{"field":"pct","type":"quantitative"},"order":{"field":"age","type":"quantitative"}}},
{"data":{"name":"bounds"},"mark":{"type":"rule","color":"black","strokeWidth":2},"encoding":{"y":{"field":"age","type":"quantitative"},"strokeDash":{"field":"boundary","type":"nominal","scale":{"domain":["LGM–deglaciation","Deglaciation–Holocene","Holocene–NZ settlement"],"range":[[2.5,8],[1,0],[8,7]]},"legend":{"title":null,"legendX":44.7,"legendY":1471.5,"symbolType":"M0,-2L0,2","symbolSize":306,"symbolStrokeWidth":2,"symbolStrokeColor":"black","labelOffset":14}}}}]},
{"width":66.8,"height":517,"data":{"name":"A_Lepidothamnus"},"layer":[
{"mark":{"type":"area","orient":"horizontal"},"encoding":{"y":{"field":"age","type":"quantitative","scale":{"domain":[-710,14910],"reverse":true,"nice":false,"zero":false},"axis":{"title":null}},"x":{"field":"pct","type":"quantitative","stack":null,"scale":{"domain":[0,36.1],"nice":false},"axis":{"title":null}},"fill":{"datum":"Conifers","scale":{"domain":["Conifers","Beeches"],"range":["#F47F20","#3478B5"]},"legend":{"title":null,"legendX":723,"legendY":1465,"symbolType":"square","symbolSize":961,"symbolStrokeWidth":0,"labelOffset":8}}}},
{"mark":{"type":"line","color":"#111111","strokeWidth":0.8},"encoding":{"y":{"field":"age","type":"quantitative"},"x":{"field":"pct","type":"quantitative"},"order":{"field":"age","type":"quantitative"}}},
{"data":{"name":"bounds"},"mark":{"type":"rule","color":"black","strokeWidth":2},"encoding":{"y":{"field":"age","type":"quantitative"},"strokeDash":{"field":"boundary","type":"nominal","scale":{"domain":["LGM–deglaciation","Deglaciation–Holocene","Holocene–NZ settlement"],"range":[[2.5,8],[1,0],[8,7]]},"legend":{"title":null,"legendX":44.7,"legendY":1471.5,"symbolType":"M0,-2L0,2","symbolSize":306,"symbolStrokeWidth":2,"symbolStrokeColor":"black","labelOffset":14}}}}]},
{"width":29.7,"height":517,"data":{"name":"A_Phyllocladus"},"layer":[
{"mark":{"type":"area","orient":"horizontal"},"encoding":{"y":{"field":"age","type":"quantitative","scale":{"domain":[-710,14910],"reverse":true,"nice":false,"zero":false},"axis":{"title":null}},"x":{"field":"pct","type":"quantitative","stack":null,"scale":{"domain":[0,16.1],"nice":false},"axis":{"title":null}},"fill":{"datum":"Conifers","scale":{"domain":["Conifers","Beeches"],"range":["#F47F20","#3478B5"]},"legend":{"title":null,"legendX":723,"legendY":1465,"symbolType":"square","symbolSize":961,"symbolStrokeWidth":0,"labelOffset":8}}}},
{"mark":{"type":"line","color":"#111111","strokeWidth":0.8},"encoding":{"y":{"field":"age","type":"quantitative"},"x":{"field":"pct","type":"quantitative"},"order":{"field":"age","type":"quantitative"}}},
{"data":{"name":"bounds"},"mark":{"type":"rule","color":"black","strokeWidth":2},"encoding":{"y":{"field":"age","type":"quantitative"},"strokeDash":{"field":"boundary","type":"nominal","scale":{"domain":["LGM–deglaciation","Deglaciation–Holocene","Holocene–NZ settlement"],"range":[[2.5,8],[1,0],[8,7]]},"legend":{"title":null,"legendX":44.7,"legendY":1471.5,"symbolType":"M0,-2L0,2","symbolSize":306,"symbolStrokeWidth":2,"symbolStrokeColor":"black","labelOffset":14}}}}]},
{"width":38.6,"height":517,"data":{"name":"A_Podocarpus"},"layer":[
{"mark":{"type":"area","orient":"horizontal"},"encoding":{"y":{"field":"age","type":"quantitative","scale":{"domain":[-710,14910],"reverse":true,"nice":false,"zero":false},"axis":{"title":null}},"x":{"field":"pct","type":"quantitative","stack":null,"scale":{"domain":[0,20.9],"nice":false},"axis":{"title":null}},"fill":{"datum":"Conifers","scale":{"domain":["Conifers","Beeches"],"range":["#F47F20","#3478B5"]},"legend":{"title":null,"legendX":723,"legendY":1465,"symbolType":"square","symbolSize":961,"symbolStrokeWidth":0,"labelOffset":8}}}},
{"mark":{"type":"line","color":"#111111","strokeWidth":0.8},"encoding":{"y":{"field":"age","type":"quantitative"},"x":{"field":"pct","type":"quantitative"},"order":{"field":"age","type":"quantitative"}}},
{"data":{"name":"bounds"},"mark":{"type":"rule","color":"black","strokeWidth":2},"encoding":{"y":{"field":"age","type":"quantitative"},"strokeDash":{"field":"boundary","type":"nominal","scale":{"domain":["LGM–deglaciation","Deglaciation–Holocene","Holocene–NZ settlement"],"range":[[2.5,8],[1,0],[8,7]]},"legend":{"title":null,"legendX":44.7,"legendY":1471.5,"symbolType":"M0,-2L0,2","symbolSize":306,"symbolStrokeWidth":2,"symbolStrokeColor":"black","labelOffset":14}}}}]},
{"width":96.7,"height":517,"data":{"name":"A_Pferr"},"layer":[
{"mark":{"type":"area","orient":"horizontal"},"encoding":{"y":{"field":"age","type":"quantitative","scale":{"domain":[-710,14910],"reverse":true,"nice":false,"zero":false},"axis":{"title":null}},"x":{"field":"pct","type":"quantitative","stack":null,"scale":{"domain":[0,52.3],"nice":false},"axis":{"title":null}},"fill":{"datum":"Conifers","scale":{"domain":["Conifers","Beeches"],"range":["#F47F20","#3478B5"]},"legend":{"title":null,"legendX":723,"legendY":1465,"symbolType":"square","symbolSize":961,"symbolStrokeWidth":0,"labelOffset":8}}}},
{"mark":{"type":"line","color":"#111111","strokeWidth":0.8},"encoding":{"y":{"field":"age","type":"quantitative"},"x":{"field":"pct","type":"quantitative"},"order":{"field":"age","type":"quantitative"}}},
{"data":{"name":"bounds"},"mark":{"type":"rule","color":"black","strokeWidth":2},"encoding":{"y":{"field":"age","type":"quantitative"},"strokeDash":{"field":"boundary","type":"nominal","scale":{"domain":["LGM–deglaciation","Deglaciation–Holocene","Holocene–NZ settlement"],"range":[[2.5,8],[1,0],[8,7]]},"legend":{"title":null,"legendX":44.7,"legendY":1471.5,"symbolType":"M0,-2L0,2","symbolSize":306,"symbolStrokeWidth":2,"symbolStrokeColor":"black","labelOffset":14}}}}]},
{"width":109.1,"height":517,"data":{"name":"A_Ptax"},"layer":[
{"mark":{"type":"area","orient":"horizontal"},"encoding":{"y":{"field":"age","type":"quantitative","scale":{"domain":[-710,14910],"reverse":true,"nice":false,"zero":false},"axis":{"title":null}},"x":{"field":"pct","type":"quantitative","stack":null,"scale":{"domain":[0,59],"nice":false},"axis":{"title":null}},"fill":{"datum":"Conifers","scale":{"domain":["Conifers","Beeches"],"range":["#F47F20","#3478B5"]},"legend":{"title":null,"legendX":723,"legendY":1465,"symbolType":"square","symbolSize":961,"symbolStrokeWidth":0,"labelOffset":8}}}},
{"mark":{"type":"line","color":"#111111","strokeWidth":0.8},"encoding":{"y":{"field":"age","type":"quantitative"},"x":{"field":"pct","type":"quantitative"},"order":{"field":"age","type":"quantitative"}}},
{"data":{"name":"bounds"},"mark":{"type":"rule","color":"black","strokeWidth":2},"encoding":{"y":{"field":"age","type":"quantitative"},"strokeDash":{"field":"boundary","type":"nominal","scale":{"domain":["LGM–deglaciation","Deglaciation–Holocene","Holocene–NZ settlement"],"range":[[2.5,8],[1,0],[8,7]]},"legend":{"title":null,"legendX":44.7,"legendY":1471.5,"symbolType":"M0,-2L0,2","symbolSize":306,"symbolStrokeWidth":2,"symbolStrokeColor":"black","labelOffset":14}}}}]},
{"width":86.4,"height":517,"data":{"name":"A_Fuscospora"},"layer":[
{"mark":{"type":"area","orient":"horizontal"},"encoding":{"y":{"field":"age","type":"quantitative","scale":{"domain":[-710,14910],"reverse":true,"nice":false,"zero":false},"axis":{"title":null}},"x":{"field":"pct","type":"quantitative","stack":null,"scale":{"domain":[0,46.7],"nice":false},"axis":{"title":null}},"fill":{"datum":"Beeches","scale":{"domain":["Conifers","Beeches"],"range":["#F47F20","#3478B5"]},"legend":{"title":null,"legendX":723,"legendY":1465,"symbolType":"square","symbolSize":961,"symbolStrokeWidth":0,"labelOffset":8}}}},
{"mark":{"type":"line","color":"#111111","strokeWidth":0.8},"encoding":{"y":{"field":"age","type":"quantitative"},"x":{"field":"pct","type":"quantitative"},"order":{"field":"age","type":"quantitative"}}},
{"data":{"name":"bounds"},"mark":{"type":"rule","color":"black","strokeWidth":2},"encoding":{"y":{"field":"age","type":"quantitative"},"strokeDash":{"field":"boundary","type":"nominal","scale":{"domain":["LGM–deglaciation","Deglaciation–Holocene","Holocene–NZ settlement"],"range":[[2.5,8],[1,0],[8,7]]},"legend":{"title":null,"legendX":44.7,"legendY":1471.5,"symbolType":"M0,-2L0,2","symbolSize":306,"symbolStrokeWidth":2,"symbolStrokeColor":"black","labelOffset":14}}}}]},
{"width":52.8,"height":517,"data":{"name":"A_Lophozonia"},"layer":[
{"mark":{"type":"area","orient":"horizontal"},"encoding":{"y":{"field":"age","type":"quantitative","scale":{"domain":[-710,14910],"reverse":true,"nice":false,"zero":false},"axis":{"title":null}},"x":{"field":"pct","type":"quantitative","stack":null,"scale":{"domain":[0,28.5],"nice":false},"axis":{"title":null}},"fill":{"datum":"Beeches","scale":{"domain":["Conifers","Beeches"],"range":["#F47F20","#3478B5"]},"legend":{"title":null,"legendX":723,"legendY":1465,"symbolType":"square","symbolSize":961,"symbolStrokeWidth":0,"labelOffset":8}}}},
{"mark":{"type":"line","color":"#111111","strokeWidth":0.8},"encoding":{"y":{"field":"age","type":"quantitative"},"x":{"field":"pct","type":"quantitative"},"order":{"field":"age","type":"quantitative"}}},
{"data":{"name":"bounds"},"mark":{"type":"rule","color":"black","strokeWidth":2},"encoding":{"y":{"field":"age","type":"quantitative"},"strokeDash":{"field":"boundary","type":"nominal","scale":{"domain":["LGM–deglaciation","Deglaciation–Holocene","Holocene–NZ settlement"],"range":[[2.5,8],[1,0],[8,7]]},"legend":{"title":null,"legendX":44.7,"legendY":1471.5,"symbolType":"M0,-2L0,2","symbolSize":306,"symbolStrokeWidth":2,"symbolStrokeColor":"black","labelOffset":14}}}}]}
],"spacing":30,"bounds":"flush"},
{"width":27,"height":517,"view":{"fill":"#d9d9d9","stroke":"#333333","strokeWidth":1.8},"data":{"name":"sites"},"transform":[{"filter":"datum.site == 'Ajax'"}],"mark":{"type":"text","angle":90,"fontSize":14,"color":"#1a1a1a"},"encoding":{"text":{"field":"site","type":"nominal"}}}
],"spacing":3,"bounds":"full"},
{"hconcat":[
{"hconcat":[
{"width":65,"height":425,"data":{"name":"T_Dacrycarpus"},"layer":[
{"mark":{"type":"area","orient":"horizontal"},"encoding":{"y":{"field":"age","type":"quantitative","scale":{"domain":[-585,12285],"reverse":true,"nice":false,"zero":false},"axis":{"title":null,"ticks":true,"labels":true,"values":[0,3000,6000,9000,12000],"format":"d"}},"x":{"field":"pct","type":"quantitative","stack":null,"scale":{"domain":[0,35.1],"nice":false},"axis":{"title":null,"ticks":true,"labels":true,"values":[0,20]}},"fill":{"datum":"Conifers","scale":{"domain":["Conifers","Beeches"],"range":["#F47F20","#3478B5"]},"legend":{"title":null,"legendX":723,"legendY":1465,"symbolType":"square","symbolSize":961,"symbolStrokeWidth":0,"labelOffset":8}}}},
{"mark":{"type":"line","color":"#111111","strokeWidth":0.8},"encoding":{"y":{"field":"age","type":"quantitative"},"x":{"field":"pct","type":"quantitative"},"order":{"field":"age","type":"quantitative"}}},
{"data":{"name":"bounds"},"mark":{"type":"rule","color":"black","strokeWidth":2},"encoding":{"y":{"field":"age","type":"quantitative"},"strokeDash":{"field":"boundary","type":"nominal","scale":{"domain":["LGM–deglaciation","Deglaciation–Holocene","Holocene–NZ settlement"],"range":[[2.5,8],[1,0],[8,7]]},"legend":{"title":null,"legendX":44.7,"legendY":1471.5,"symbolType":"M0,-2L0,2","symbolSize":306,"symbolStrokeWidth":2,"symbolStrokeColor":"black","labelOffset":14}}}}]},
{"width":122.6,"height":425,"data":{"name":"T_Dacrydium"},"layer":[
{"mark":{"type":"area","orient":"horizontal"},"encoding":{"y":{"field":"age","type":"quantitative","scale":{"domain":[-585,12285],"reverse":true,"nice":false,"zero":false},"axis":{"title":null}},"x":{"field":"pct","type":"quantitative","stack":null,"scale":{"domain":[0,66.3],"nice":false},"axis":{"title":null,"ticks":true,"labels":true,"values":[0,20,40,60]}},"fill":{"datum":"Conifers","scale":{"domain":["Conifers","Beeches"],"range":["#F47F20","#3478B5"]},"legend":{"title":null,"legendX":723,"legendY":1465,"symbolType":"square","symbolSize":961,"symbolStrokeWidth":0,"labelOffset":8}}}},
{"mark":{"type":"line","color":"#111111","strokeWidth":0.8},"encoding":{"y":{"field":"age","type":"quantitative"},"x":{"field":"pct","type":"quantitative"},"order":{"field":"age","type":"quantitative"}}},
{"data":{"name":"bounds"},"mark":{"type":"rule","color":"black","strokeWidth":2},"encoding":{"y":{"field":"age","type":"quantitative"},"strokeDash":{"field":"boundary","type":"nominal","scale":{"domain":["LGM–deglaciation","Deglaciation–Holocene","Holocene–NZ settlement"],"range":[[2.5,8],[1,0],[8,7]]},"legend":{"title":null,"legendX":44.7,"legendY":1471.5,"symbolType":"M0,-2L0,2","symbolSize":306,"symbolStrokeWidth":2,"symbolStrokeColor":"black","labelOffset":14}}}}]},
{"width":70.5,"height":425,"data":{"name":"T_Halocarpus"},"layer":[
{"mark":{"type":"area","orient":"horizontal"},"encoding":{"y":{"field":"age","type":"quantitative","scale":{"domain":[-585,12285],"reverse":true,"nice":false,"zero":false},"axis":{"title":null}},"x":{"field":"pct","type":"quantitative","stack":null,"scale":{"domain":[0,38.1],"nice":false},"axis":{"title":null,"ticks":true,"labels":true,"values":[0,20]}},"fill":{"datum":"Conifers","scale":{"domain":["Conifers","Beeches"],"range":["#F47F20","#3478B5"]},"legend":{"title":null,"legendX":723,"legendY":1465,"symbolType":"square","symbolSize":961,"symbolStrokeWidth":0,"labelOffset":8}}}},
{"mark":{"type":"line","color":"#111111","strokeWidth":0.8},"encoding":{"y":{"field":"age","type":"quantitative"},"x":{"field":"pct","type":"quantitative"},"order":{"field":"age","type":"quantitative"}}},
{"data":{"name":"bounds"},"mark":{"type":"rule","color":"black","strokeWidth":2},"encoding":{"y":{"field":"age","type":"quantitative"},"strokeDash":{"field":"boundary","type":"nominal","scale":{"domain":["LGM–deglaciation","Deglaciation–Holocene","Holocene–NZ settlement"],"range":[[2.5,8],[1,0],[8,7]]},"legend":{"title":null,"legendX":44.7,"legendY":1471.5,"symbolType":"M0,-2L0,2","symbolSize":306,"symbolStrokeWidth":2,"symbolStrokeColor":"black","labelOffset":14}}}}]},
{"width":66.8,"height":425,"data":{"name":"T_Lepidothamnus"},"layer":[
{"mark":{"type":"area","orient":"horizontal"},"encoding":{"y":{"field":"age","type":"quantitative","scale":{"domain":[-585,12285],"reverse":true,"nice":false,"zero":false},"axis":{"title":null}},"x":{"field":"pct","type":"quantitative","stack":null,"scale":{"domain":[0,36.1],"nice":false},"axis":{"title":null,"ticks":true,"labels":true,"values":[0,20]}},"fill":{"datum":"Conifers","scale":{"domain":["Conifers","Beeches"],"range":["#F47F20","#3478B5"]},"legend":{"title":null,"legendX":723,"legendY":1465,"symbolType":"square","symbolSize":961,"symbolStrokeWidth":0,"labelOffset":8}}}},
{"mark":{"type":"line","color":"#111111","strokeWidth":0.8},"encoding":{"y":{"field":"age","type":"quantitative"},"x":{"field":"pct","type":"quantitative"},"order":{"field":"age","type":"quantitative"}}},
{"data":{"name":"bounds"},"mark":{"type":"rule","color":"black","strokeWidth":2},"encoding":{"y":{"field":"age","type":"quantitative"},"strokeDash":{"field":"boundary","type":"nominal","scale":{"domain":["LGM–deglaciation","Deglaciation–Holocene","Holocene–NZ settlement"],"range":[[2.5,8],[1,0],[8,7]]},"legend":{"title":null,"legendX":44.7,"legendY":1471.5,"symbolType":"M0,-2L0,2","symbolSize":306,"symbolStrokeWidth":2,"symbolStrokeColor":"black","labelOffset":14}}}}]},
{"width":29.7,"height":425,"data":{"name":"T_Phyllocladus"},"layer":[
{"mark":{"type":"area","orient":"horizontal"},"encoding":{"y":{"field":"age","type":"quantitative","scale":{"domain":[-585,12285],"reverse":true,"nice":false,"zero":false},"axis":{"title":null}},"x":{"field":"pct","type":"quantitative","stack":null,"scale":{"domain":[0,16.1],"nice":false},"axis":{"title":null,"ticks":true,"labels":true,"values":[0]}},"fill":{"datum":"Conifers","scale":{"domain":["Conifers","Beeches"],"range":["#F47F20","#3478B5"]},"legend":{"title":null,"legendX":723,"legendY":1465,"symbolType":"square","symbolSize":961,"symbolStrokeWidth":0,"labelOffset":8}}}},
{"mark":{"type":"line","color":"#111111","strokeWidth":0.8},"encoding":{"y":{"field":"age","type":"quantitative"},"x":{"field":"pct","type":"quantitative"},"order":{"field":"age","type":"quantitative"}}},
{"data":{"name":"bounds"},"mark":{"type":"rule","color":"black","strokeWidth":2},"encoding":{"y":{"field":"age","type":"quantitative"},"strokeDash":{"field":"boundary","type":"nominal","scale":{"domain":["LGM–deglaciation","Deglaciation–Holocene","Holocene–NZ settlement"],"range":[[2.5,8],[1,0],[8,7]]},"legend":{"title":null,"legendX":44.7,"legendY":1471.5,"symbolType":"M0,-2L0,2","symbolSize":306,"symbolStrokeWidth":2,"symbolStrokeColor":"black","labelOffset":14}}}}]},
{"width":38.6,"height":425,"data":{"name":"T_Podocarpus"},"layer":[
{"mark":{"type":"area","orient":"horizontal"},"encoding":{"y":{"field":"age","type":"quantitative","scale":{"domain":[-585,12285],"reverse":true,"nice":false,"zero":false},"axis":{"title":null}},"x":{"field":"pct","type":"quantitative","stack":null,"scale":{"domain":[0,20.9],"nice":false},"axis":{"title":"Percent of dryland pollen sum","titleX":0,"titleAlign":"center","titlePadding":4,"ticks":true,"labels":true,"values":[0,20]}},"fill":{"datum":"Conifers","scale":{"domain":["Conifers","Beeches"],"range":["#F47F20","#3478B5"]},"legend":{"title":null,"legendX":723,"legendY":1465,"symbolType":"square","symbolSize":961,"symbolStrokeWidth":0,"labelOffset":8}}}},
{"mark":{"type":"line","color":"#111111","strokeWidth":0.8},"encoding":{"y":{"field":"age","type":"quantitative"},"x":{"field":"pct","type":"quantitative"},"order":{"field":"age","type":"quantitative"}}},
{"data":{"name":"bounds"},"mark":{"type":"rule","color":"black","strokeWidth":2},"encoding":{"y":{"field":"age","type":"quantitative"},"strokeDash":{"field":"boundary","type":"nominal","scale":{"domain":["LGM–deglaciation","Deglaciation–Holocene","Holocene–NZ settlement"],"range":[[2.5,8],[1,0],[8,7]]},"legend":{"title":null,"legendX":44.7,"legendY":1471.5,"symbolType":"M0,-2L0,2","symbolSize":306,"symbolStrokeWidth":2,"symbolStrokeColor":"black","labelOffset":14}}}}]},
{"width":96.7,"height":425,"data":{"name":"T_Pferr"},"layer":[
{"mark":{"type":"area","orient":"horizontal"},"encoding":{"y":{"field":"age","type":"quantitative","scale":{"domain":[-585,12285],"reverse":true,"nice":false,"zero":false},"axis":{"title":null}},"x":{"field":"pct","type":"quantitative","stack":null,"scale":{"domain":[0,52.3],"nice":false},"axis":{"title":null,"ticks":true,"labels":true,"values":[0,20,40]}},"fill":{"datum":"Conifers","scale":{"domain":["Conifers","Beeches"],"range":["#F47F20","#3478B5"]},"legend":{"title":null,"legendX":723,"legendY":1465,"symbolType":"square","symbolSize":961,"symbolStrokeWidth":0,"labelOffset":8}}}},
{"mark":{"type":"line","color":"#111111","strokeWidth":0.8},"encoding":{"y":{"field":"age","type":"quantitative"},"x":{"field":"pct","type":"quantitative"},"order":{"field":"age","type":"quantitative"}}},
{"data":{"name":"bounds"},"mark":{"type":"rule","color":"black","strokeWidth":2},"encoding":{"y":{"field":"age","type":"quantitative"},"strokeDash":{"field":"boundary","type":"nominal","scale":{"domain":["LGM–deglaciation","Deglaciation–Holocene","Holocene–NZ settlement"],"range":[[2.5,8],[1,0],[8,7]]},"legend":{"title":null,"legendX":44.7,"legendY":1471.5,"symbolType":"M0,-2L0,2","symbolSize":306,"symbolStrokeWidth":2,"symbolStrokeColor":"black","labelOffset":14}}}}]},
{"width":109.1,"height":425,"data":{"name":"T_Ptax"},"layer":[
{"mark":{"type":"area","orient":"horizontal"},"encoding":{"y":{"field":"age","type":"quantitative","scale":{"domain":[-585,12285],"reverse":true,"nice":false,"zero":false},"axis":{"title":null}},"x":{"field":"pct","type":"quantitative","stack":null,"scale":{"domain":[0,59],"nice":false},"axis":{"title":null,"ticks":true,"labels":true,"values":[0,20,40]}},"fill":{"datum":"Conifers","scale":{"domain":["Conifers","Beeches"],"range":["#F47F20","#3478B5"]},"legend":{"title":null,"legendX":723,"legendY":1465,"symbolType":"square","symbolSize":961,"symbolStrokeWidth":0,"labelOffset":8}}}},
{"mark":{"type":"line","color":"#111111","strokeWidth":0.8},"encoding":{"y":{"field":"age","type":"quantitative"},"x":{"field":"pct","type":"quantitative"},"order":{"field":"age","type":"quantitative"}}},
{"data":{"name":"bounds"},"mark":{"type":"rule","color":"black","strokeWidth":2},"encoding":{"y":{"field":"age","type":"quantitative"},"strokeDash":{"field":"boundary","type":"nominal","scale":{"domain":["LGM–deglaciation","Deglaciation–Holocene","Holocene–NZ settlement"],"range":[[2.5,8],[1,0],[8,7]]},"legend":{"title":null,"legendX":44.7,"legendY":1471.5,"symbolType":"M0,-2L0,2","symbolSize":306,"symbolStrokeWidth":2,"symbolStrokeColor":"black","labelOffset":14}}}}]},
{"width":86.4,"height":425,"data":{"name":"T_Fuscospora"},"layer":[
{"mark":{"type":"area","orient":"horizontal"},"encoding":{"y":{"field":"age","type":"quantitative","scale":{"domain":[-585,12285],"reverse":true,"nice":false,"zero":false},"axis":{"title":null}},"x":{"field":"pct","type":"quantitative","stack":null,"scale":{"domain":[0,46.7],"nice":false},"axis":{"title":null,"ticks":true,"labels":true,"values":[0,20,40]}},"fill":{"datum":"Beeches","scale":{"domain":["Conifers","Beeches"],"range":["#F47F20","#3478B5"]},"legend":{"title":null,"legendX":723,"legendY":1465,"symbolType":"square","symbolSize":961,"symbolStrokeWidth":0,"labelOffset":8}}}},
{"mark":{"type":"line","color":"#111111","strokeWidth":0.8},"encoding":{"y":{"field":"age","type":"quantitative"},"x":{"field":"pct","type":"quantitative"},"order":{"field":"age","type":"quantitative"}}},
{"data":{"name":"bounds"},"mark":{"type":"rule","color":"black","strokeWidth":2},"encoding":{"y":{"field":"age","type":"quantitative"},"strokeDash":{"field":"boundary","type":"nominal","scale":{"domain":["LGM–deglaciation","Deglaciation–Holocene","Holocene–NZ settlement"],"range":[[2.5,8],[1,0],[8,7]]},"legend":{"title":null,"legendX":44.7,"legendY":1471.5,"symbolType":"M0,-2L0,2","symbolSize":306,"symbolStrokeWidth":2,"symbolStrokeColor":"black","labelOffset":14}}}}]},
{"width":52.8,"height":425,"data":{"name":"T_Lophozonia"},"layer":[
{"mark":{"type":"area","orient":"horizontal"},"encoding":{"y":{"field":"age","type":"quantitative","scale":{"domain":[-585,12285],"reverse":true,"nice":false,"zero":false},"axis":{"title":null}},"x":{"field":"pct","type":"quantitative","stack":null,"scale":{"domain":[0,28.5],"nice":false},"axis":{"title":null,"ticks":true,"labels":true,"values":[0,20]}},"fill":{"datum":"Beeches","scale":{"domain":["Conifers","Beeches"],"range":["#F47F20","#3478B5"]},"legend":{"title":null,"legendX":723,"legendY":1465,"symbolType":"square","symbolSize":961,"symbolStrokeWidth":0,"labelOffset":8}}}},
{"mark":{"type":"line","color":"#111111","strokeWidth":0.8},"encoding":{"y":{"field":"age","type":"quantitative"},"x":{"field":"pct","type":"quantitative"},"order":{"field":"age","type":"quantitative"}}},
{"data":{"name":"bounds"},"mark":{"type":"rule","color":"black","strokeWidth":2},"encoding":{"y":{"field":"age","type":"quantitative"},"strokeDash":{"field":"boundary","type":"nominal","scale":{"domain":["LGM–deglaciation","Deglaciation–Holocene","Holocene–NZ settlement"],"range":[[2.5,8],[1,0],[8,7]]},"legend":{"title":null,"legendX":44.7,"legendY":1471.5,"symbolType":"M0,-2L0,2","symbolSize":306,"symbolStrokeWidth":2,"symbolStrokeColor":"black","labelOffset":14}}}}]}
],"spacing":30,"bounds":"flush"},
{"width":27,"height":425,"view":{"fill":"#d9d9d9","stroke":"#333333","strokeWidth":1.8},"data":{"name":"sites"},"transform":[{"filter":"datum.site == 'Toi Toi'"}],"mark":{"type":"text","angle":90,"fontSize":14,"color":"#1a1a1a"},"encoding":{"text":{"field":"site","type":"nominal"}}}
],"spacing":3,"bounds":"full"}
]
}
